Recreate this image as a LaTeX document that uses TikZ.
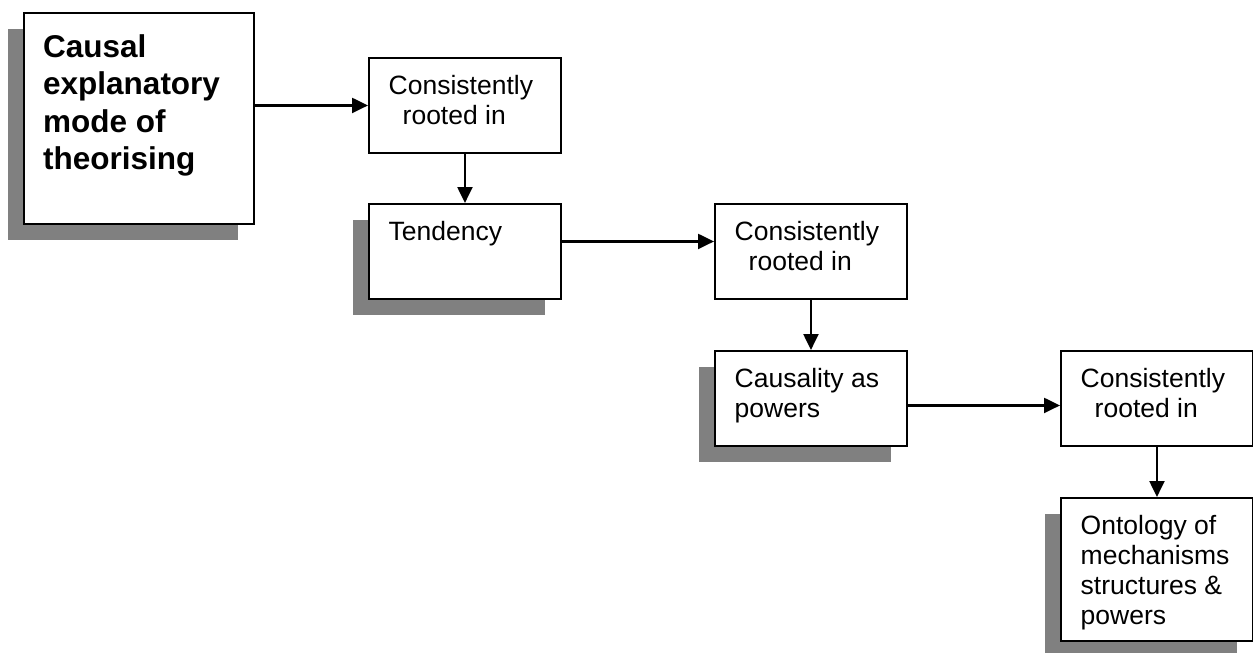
\documentclass[tikz,border=0pt]{standalone}
\usepackage{fontspec}
\setmainfont{Liberation Sans}
\usetikzlibrary{calc}
\usetikzlibrary{arrows.meta, shadows}
\definecolor{shadowgray}{RGB}{128,128,128}

\begin{document}
\begin{tikzpicture}[
		x=1pt, y=-1pt,
		box/.style={draw, fill=white, line width=1.9pt, anchor=north west, inner sep=0pt, minimum width=192pt, minimum height=95pt},
		shadowbox/.style={box, drop shadow={shadow xshift=-16pt, shadow yshift=-16pt, opacity=1, fill=shadowgray}},
		boxtext/.style={anchor=north west, inner sep=0pt, align=left, font=\fontsize{26.5}{30}\selectfont},
		link/.style={line width=2.2pt, -{Triangle[length=16pt, width=15pt]}},
	]
	\useasboundingbox (0,0) rectangle (1253,653);
	\node[shadowbox, minimum width=230pt, minimum height=211pt] (mode) at (23,12) {};
	\node[box] (root1) at (368,57) {};
	\node[shadowbox] (tend) at (368,203) {};
	\node[box] (root2) at (714,203) {};
	\node[shadowbox] (pow) at (714,350) {};
	\node[box] (root3) at (1060,350) {};
	\node[shadowbox, minimum height=143pt] (onto) at (1060,497) {};
	\node[boxtext, font=\bfseries\fontsize{31.5}{37.5}\selectfont] (mode-t) at ($(mode.north west)+(20,22)$) {Causal\\explanatory\\mode of\\theorising};
	\node[boxtext] (root1-t) at ($(root1.north west)+(20.5,18)$) {Consistently\\\hspace*{14pt}rooted in};
	\node[boxtext] (tend-t)  at ($(tend.north west)+(20.5,18)$)  {Tendency};
	\node[boxtext] (root2-t) at ($(root2.north west)+(20.5,18)$) {Consistently\\\hspace*{14pt}rooted in};
	\node[boxtext] (pow-t)   at ($(pow.north west)+(20.5,18)$)   {Causality as\\powers};
	\node[boxtext] (root3-t) at ($(root3.north west)+(20.5,18)$) {Consistently\\\hspace*{14pt}rooted in};
	\node[boxtext] (onto-t)  at ($(onto.north west)+(20.5,18)$)  {Ontology of\\mechanisms\\structures \&\\powers};
	\draw[link] (mode.east |- root1.west) -- (root1.west);
	\draw[link] (root1.south) -- (tend.north);
	\draw[link] ([yshift=10pt]tend.east) -- ([yshift=10pt]root2.west);
	\draw[link] (root2.south) -- (pow.north);
	\draw[link] ([yshift=-7pt]pow.east) -- ([yshift=-7pt]root3.west);
	\draw[link] (root3.south) -- (onto.north);
\end{tikzpicture}
\end{document}
